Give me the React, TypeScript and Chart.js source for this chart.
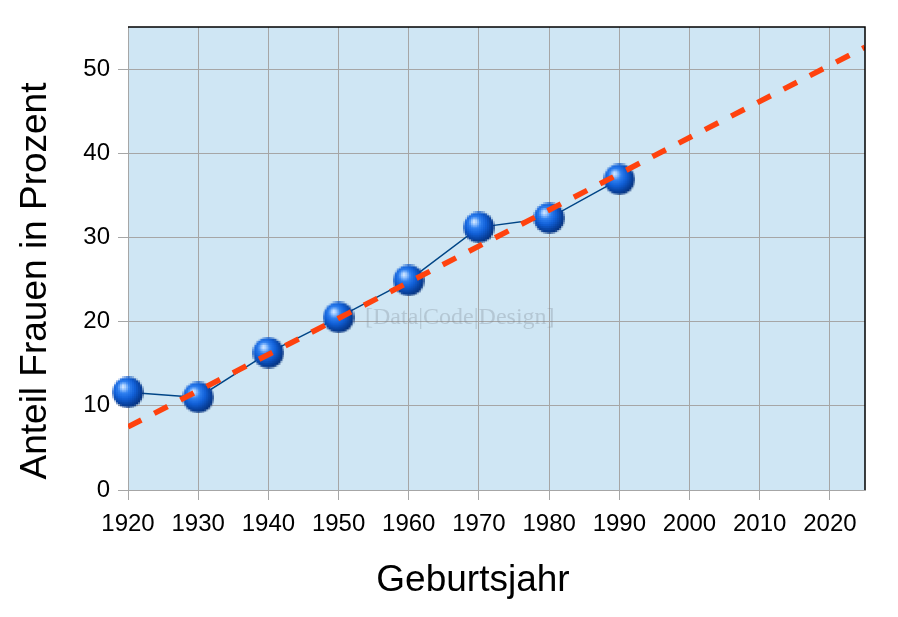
import React, { useEffect, useRef } from "react";
import { Chart, registerables } from "chart.js";

Chart.register(...registerables);

const years = [1920, 1930, 1940, 1950, 1960, 1970, 1980, 1990];
const shares = [11.6, 11.0, 16.3, 20.5, 24.9, 31.2, 32.3, 36.9];
const trendYears = [1920, 2025];
const trendValues = [7.5, 52.6];
const xTicks = [1920, 1930, 1940, 1950, 1960, 1970, 1980, 1990, 2000, 2010, 2020];
const yTicks = [0, 10, 20, 30, 40, 50];
const xTitle = "Geburtsjahr";
const yTitle = "Anteil Frauen in Prozent";
const watermark = "[Data|Code|Design]";

function makeSphere(): HTMLCanvasElement {
  const low = document.createElement("canvas");
  low.width = 16;
  low.height = 16;
  const c = low.getContext("2d")!;
  c.beginPath();
  c.arc(8, 8, 7.8, 0, Math.PI * 2);
  const g = c.createRadialGradient(5.5, 5, 0, 7, 7, 10.5);
  g.addColorStop(0, "#e4f1ff");
  g.addColorStop(0.12, "#9cc8ff");
  g.addColorStop(0.28, "#2f80f0");
  g.addColorStop(0.5, "#1160d8");
  g.addColorStop(0.72, "#0842a0");
  g.addColorStop(1, "#04245e");
  c.fillStyle = g;
  c.fill();
  const out = document.createElement("canvas");
  out.width = 32;
  out.height = 32;
  const o = out.getContext("2d")!;
  o.imageSmoothingEnabled = false;
  o.drawImage(low, 0, 0, 32, 32);
  return out;
}

const FONT = "'Liberation Sans', Arial, sans-serif";

const decorPlugin = {
  id: "decor",
  beforeDraw(chart: any) {
    const { ctx, chartArea: a } = chart;
    ctx.save();
    ctx.fillStyle = "#cfe6f4";
    ctx.fillRect(a.left, a.top, a.right - a.left, a.bottom - a.top);
    ctx.restore();
  },
  beforeDatasetsDraw(chart: any) {
    const { ctx } = chart;
    ctx.save();
    ctx.font = "24px 'Liberation Serif', serif";
    ctx.fillStyle = "rgba(120,130,140,0.3)";
    ctx.textAlign = "left";
    ctx.textBaseline = "middle";
    ctx.fillText(watermark, 365, 318);
    ctx.restore();
  },
  afterDraw(chart: any) {
    const { ctx, chartArea: a } = chart;
    ctx.save();
    ctx.strokeStyle = "#000000";
    ctx.lineWidth = 1.5;
    ctx.beginPath();
    ctx.moveTo(a.left, a.top);
    ctx.lineTo(a.right, a.top);
    ctx.lineTo(a.right, a.bottom);
    ctx.stroke();
    ctx.fillStyle = "#000000";
    ctx.font = "37px " + FONT;
    ctx.textAlign = "center";
    ctx.textBaseline = "middle";
    ctx.fillText(xTitle, 473, 581);
    ctx.translate(36, 281);
    ctx.rotate(-Math.PI / 2);
    ctx.fillText(yTitle, 0, 0);
    ctx.restore();
  },
};

export default function App() {
  const ref = useRef<HTMLCanvasElement>(null);
  useEffect(() => {
    const sphere = makeSphere();
    const chart = new Chart(ref.current!, {
      type: "scatter",
      data: {
        datasets: [
          {
            label: "Trend",
            data: trendYears.map((x, i) => ({ x, y: trendValues[i] })),
            showLine: true,
            borderColor: "#ff420e",
            borderWidth: 5.5,
            borderDash: [15, 14.5],
            borderCapStyle: "butt",
            pointRadius: 0,
            pointHoverRadius: 0,
          } as any,
          {
            label: "Anteil",
            data: years.map((x, i) => ({ x, y: shares[i] })),
            showLine: true,
            clip: false,
            borderColor: "#004586",
            borderWidth: 1.5,
            pointStyle: sphere as any,
            pointRadius: 16,
          } as any,
        ],
      },
      options: {
        animation: false,
        responsive: true,
        maintainAspectRatio: false,
        layout: { padding: { left: 0, right: 33, top: 27, bottom: 0 } },
        plugins: { legend: { display: false }, tooltip: { enabled: false } },
        scales: {
          x: {
            type: "linear",
            min: 1920,
            max: 2025,
            afterBuildTicks: (s: any) => {
              s.ticks = xTicks.map((v) => ({ value: v }));
            },
            afterFit: (s: any) => {
              s.height = 127;
            },
            grid: {
              color: "#a6a6a6",
              lineWidth: 1,
              tickLength: 10,
              drawTicks: true,
            },
            border: { color: "#a6a6a6", width: 1 },
            ticks: {
              color: "#000000",
              font: { family: FONT, size: 24 },
              padding: 10,
              maxRotation: 0,
              autoSkip: false,
              callback: (v: any) => String(v),
            },
          },
          y: {
            type: "linear",
            min: 0,
            max: 55,
            afterBuildTicks: (s: any) => {
              s.ticks = yTicks.map((v) => ({ value: v }));
            },
            afterFit: (s: any) => {
              s.width = 128;
            },
            grid: {
              color: "#a6a6a6",
              lineWidth: 1,
              tickLength: 10,
            },
            border: { color: "#a6a6a6", width: 1 },
            ticks: {
              color: "#000000",
              font: { family: FONT, size: 24 },
              padding: 8,
            },
          },
        },
      },
      plugins: [decorPlugin],
    });
    return () => chart.destroy();
  }, []);
  return (
    <div style={{ position: "fixed", left: 0, top: 0, width: 898, height: 617, background: "#fff" }}>
      <canvas ref={ref} />
    </div>
  );
}
